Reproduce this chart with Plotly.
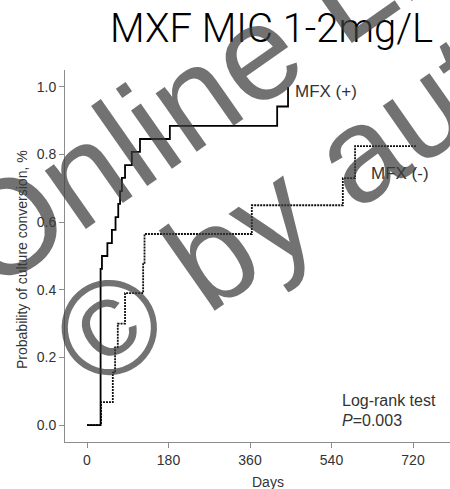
import plotly.graph_objects as go

# Kaplan-Meier step data: days to culture conversion vs cumulative probability
days_mfx_pos = [0, 30, 33, 45, 55, 63, 69, 73, 77, 84, 99, 117, 183, 420, 444]
prob_mfx_pos = [0, 0.462, 0.5, 0.538, 0.577, 0.615, 0.654, 0.692, 0.731, 0.769,
                0.808, 0.846, 0.885, 0.942, 1.0]

days_mfx_neg = [0, 31, 57, 62, 68, 84, 124, 127, 364, 565, 592, 729]
prob_mfx_neg = [0, 0.068, 0.155, 0.23, 0.30, 0.39, 0.48, 0.565, 0.65, 0.73, 0.825, 0.825]

x_ticks = [0, 180, 360, 540, 720]
y_ticks = [0.0, 0.2, 0.4, 0.6, 0.8, 1.0]
y_tick_text = ["0.0", "0.2", "0.4", "0.6", "0.8", "1.0"]

W, H = 450, 489
L, R, T, B = 65, 0, 70, 47
PW, PH = W - L - R, H - T - B


def px_x(px):
    return (px - L) / PW


def px_y(py):
    return (H - B - py) / PH


AXIS_GREY = "#8c8c8c"
TEXT_GREY = "#333333"
FONT = "Liberation Sans, Arial, sans-serif"
MARK = "rgba(60,60,60,0.72)"

fig = go.Figure()
fig.add_trace(go.Scatter(
    x=days_mfx_neg, y=prob_mfx_neg, mode="lines", line_shape="hv",
    line=dict(color="#111111", width=1.8, dash="2px,1px"),
    showlegend=False, hoverinfo="skip"))
fig.add_trace(go.Scatter(
    x=days_mfx_pos, y=prob_mfx_pos, mode="lines", line_shape="hv",
    line=dict(color="#000000", width=1.8),
    showlegend=False, hoverinfo="skip"))

annotations = [
    dict(x=455, y=0.985, xref="x", yref="y", text="MFX (+)", showarrow=False,
         xanchor="left", yanchor="middle", font=dict(size=17, color=TEXT_GREY)),
    dict(x=623, y=0.745, xref="x", yref="y", text="MFX (-)", showarrow=False,
         xanchor="left", yanchor="middle", font=dict(size=17, color=TEXT_GREY)),
    dict(x=559, y=0.074, xref="x", yref="y", text="Log-rank test", showarrow=False,
         xanchor="left", yanchor="middle", font=dict(size=16, color=TEXT_GREY)),
    dict(x=559, y=0.015, xref="x", yref="y", text="<i>P</i>=0.003", showarrow=False,
         xanchor="left", yanchor="middle", font=dict(size=16, color=TEXT_GREY)),
    dict(x=px_x(268), y=px_y(482), xref="paper", yref="paper", text="Days",
         showarrow=False, xanchor="center", yanchor="middle",
         font=dict(size=14, color=TEXT_GREY)),
    dict(x=px_x(22), y=px_y(260), xref="paper", yref="paper",
         text="Probability of culture conversion, %", textangle=-90,
         showarrow=False, xanchor="center", yanchor="middle",
         font=dict(size=14, color=TEXT_GREY)),
    dict(x=px_x(271), y=px_y(28), xref="paper", yref="paper",
         text="MXF MIC 1-2mg/L", showarrow=False, xanchor="center", yanchor="middle",
         font=dict(size=40, color="#000000", family="Roboto, sans-serif", weight=300)),
    # publisher watermark
    dict(x=px_x(310), y=px_y(16), xref="paper", yref="paper",
         text="Online Library", textangle=-35, showarrow=False,
         xanchor="center", yanchor="middle",
         font=dict(size=135, color=MARK, family=FONT)),
    dict(x=px_x(355), y=px_y(155), xref="paper", yref="paper",
         text="© by author", textangle=-35, showarrow=False,
         xanchor="center", yanchor="middle",
         font=dict(size=135, color=MARK, family=FONT)),
]

fig.update_layout(
    width=W, height=H,
    margin=dict(l=L, r=R, t=T, b=B, pad=0),
    paper_bgcolor="white", plot_bgcolor="white",
    font=dict(family=FONT, size=14, color=TEXT_GREY),
    annotations=annotations,
    xaxis=dict(range=[-48.6, 801.7], tickvals=x_ticks, ticks="outside", ticklen=5,
               tickcolor=AXIS_GREY, showline=True, linecolor=AXIS_GREY, linewidth=1,
               showgrid=False, zeroline=False, tickfont=dict(size=14, color=TEXT_GREY)),
    yaxis=dict(range=[-0.05, 1.05], tickvals=y_ticks, ticktext=y_tick_text,
               ticks="outside", ticklen=5, tickcolor=AXIS_GREY, showline=True,
               linecolor=AXIS_GREY, linewidth=1, showgrid=False, zeroline=False,
               tickfont=dict(size=14, color=TEXT_GREY)),
)

fig.write_html("out.html")
